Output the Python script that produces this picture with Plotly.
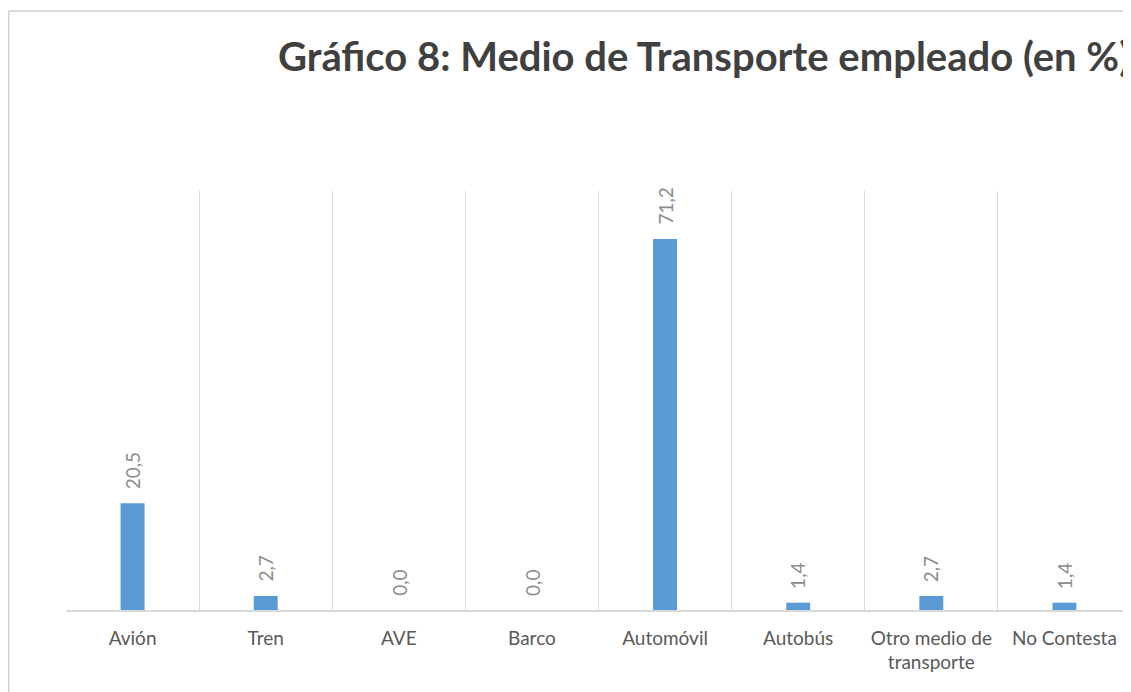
import plotly.graph_objects as go

# data
categories = ["Avión", "Tren", "AVE", "Barco", "Automóvil", "Autobús",
              "Otro medio de transporte", "No Contesta"]
tick_labels = ["Avión", "Tren", "AVE", "Barco", "Automóvil", "Autobús",
               "Otro medio de<br>transporte", "No Contesta"]
percent = [20.5, 2.7, 0.0, 0.0, 71.2, 1.4, 2.7, 1.4]

# page has an 8px body margin, so the figure starts at (8, 8)
W, H = 1123, 684
L, R, T, B = 58, 0, 183, 82
pw, ph = W - L - R, H - T - B

# figure pixel -> paper coords
def px_x(x):
    return (x - L) / pw

def px_y(y):
    return (H - B - y) / ph

fig = go.Figure()
fig.add_trace(go.Bar(
    x=categories,
    y=percent,
    marker=dict(color="#5B9BD5", line=dict(width=0)),
    hoverinfo="x+y",
))

# rotated value labels above bars
for c, v in zip(categories, percent):
    fig.add_annotation(
        x=c, y=v, xref="x", yref="y",
        text=f"{v:.1f}".replace(".", ","),
        textangle=-90, showarrow=False,
        xanchor="center", yanchor="bottom", yshift=12,
        font=dict(family="Lato", size=19, color="#8c8c8c"),
    )

# title, runs off the right edge like the reference
fig.add_annotation(
    x=px_x(268), y=px_y(48), xref="paper", yref="paper",
    text="<b>Gráfico 8: Medio de Transporte empleado (en %)</b>",
    showarrow=False, xanchor="left", yanchor="middle",
    font=dict(family="Lato", size=40, color="#404040"),
)

# outer chart frame: only top and left edges are visible
frame = dict(color="#d0d0d0", width=1.5)
fig.add_shape(type="line", xref="paper", yref="paper",
              x0=px_x(0.75), y0=px_y(3), x1=px_x(W + 20), y1=px_y(3), line=frame)
fig.add_shape(type="line", xref="paper", yref="paper",
              x0=px_x(0.75), y0=px_y(3), x1=px_x(0.75), y1=px_y(H + 20), line=frame)

fig.update_layout(
    width=W, height=H,
    margin=dict(l=L, r=R, t=T, b=B),
    paper_bgcolor="white", plot_bgcolor="white",
    bargap=0.82,
    showlegend=False,
    font=dict(family="Lato", color="#595959"),
)
fig.update_xaxes(
    type="category",
    tickvals=categories, ticktext=tick_labels,
    tickson="boundaries", showgrid=True, gridcolor="#d9d9d9", gridwidth=1,
    showline=True, linecolor="#d9d9d9", linewidth=1.5,
    ticks="", ticklabelstandoff=10,
    tickfont=dict(family="Lato", size=19, color="#595959"),
    range=[-0.5, 7.5], fixedrange=True,
)
fig.update_yaxes(
    range=[0, 80.4], showgrid=False, showticklabels=False,
    zeroline=False, showline=False, fixedrange=True,
)

# no scrollbars on the page
fig.write_html(
    "out.html",
    post_script="document.documentElement.style.overflow='hidden';"
                "document.body.style.overflow='hidden';",
)
